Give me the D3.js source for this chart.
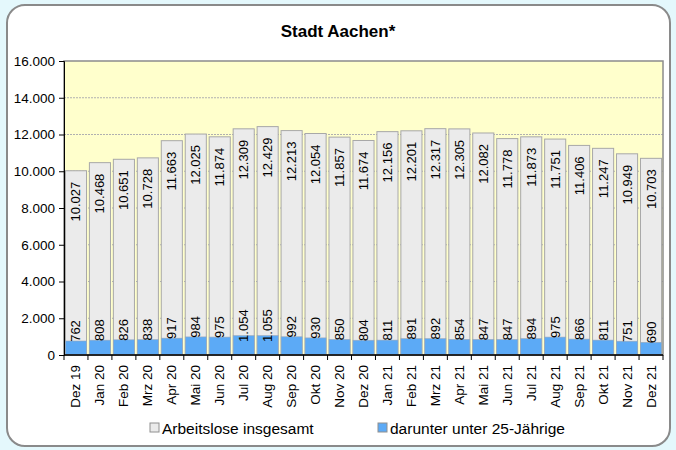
<!DOCTYPE html>
<html lang="de">
<head>
<meta charset="UTF-8">
<title>Stadt Aachen</title>
<script src="https://d3js.org/d3.v7.min.js"></script>
<style>
  html, body { margin: 0; padding: 0; background: #e4f8fc; }
  svg { display: block; font-family: "Liberation Sans", Arial, sans-serif; }
</style>
</head>
<body>
<svg width="676" height="450"></svg>
<script>
// data
const months = ["Dez 19","Jan 20","Feb 20","Mrz 20","Apr 20","Mai 20","Jun 20","Jul 20","Aug 20","Sep 20","Okt 20","Nov 20","Dez 20",
                "Jan 21","Feb 21","Mrz 21","Apr 21","Mai 21","Jun 21","Jul 21","Aug 21","Sep 21","Okt 21","Nov 21","Dez 21"];
const insgesamt = [10027,10468,10651,10728,11663,12025,11874,12309,12429,12213,12054,11857,11674,
                   12156,12201,12317,12305,12082,11778,11873,11751,11406,11247,10949,10703];
const unter25 = [762,808,826,838,917,984,975,1054,1055,992,930,850,804,
                 811,891,892,854,847,847,894,975,866,811,751,690];
const yTicks = [0,2000,4000,6000,8000,10000,12000,14000,16000];

const de = d3.formatLocale({decimal: ",", thousands: ".", grouping: [3], currency: ["", " €"]});
const fmt = de.format(",d");

const svg = d3.select("svg");

// chart frame
svg.append("rect")
  .attr("x", 7).attr("y", 5).attr("width", 663).attr("height", 441)
  .attr("rx", 18).attr("ry", 18)
  .attr("fill", "#fff").attr("stroke", "#8a8a8a").attr("stroke-width", 2);

svg.append("text")
  .attr("x", 338).attr("y", 37)
  .attr("text-anchor", "middle")
  .attr("font-size", 17).attr("font-weight", "bold")
  .text("Stadt Aachen*");

const pLeft = 64, pRight = 663, pTop = 61, pBottom = 355;

const x = d3.scaleBand().domain(months).range([pLeft, pRight]).paddingInner(0.12).paddingOuter(0.06);
const y = d3.scaleLinear().domain([0, 16000]).range([pBottom, pTop]);

// plot background
svg.append("rect")
  .attr("x", pLeft).attr("y", pTop).attr("width", pRight - pLeft).attr("height", pBottom - pTop)
  .attr("fill", "#ffffcc");

// grid
svg.append("g").selectAll("line")
  .data(yTicks.slice(1, -1))
  .join("line")
  .attr("x1", pLeft).attr("x2", pRight)
  .attr("y1", d => y(d)).attr("y2", d => y(d))
  .attr("stroke", "#b0b0b0").attr("stroke-dasharray", "2,1");

// total bars
svg.append("g").selectAll("rect")
  .data(insgesamt)
  .join("rect")
  .attr("x", (d, i) => x(months[i]))
  .attr("width", x.bandwidth())
  .attr("y", d => y(d))
  .attr("height", d => pBottom - y(d))
  .attr("fill", "#ebebeb").attr("stroke", "#a8a8a8").attr("stroke-width", 1);

// under 25 bars
svg.append("g").selectAll("rect")
  .data(unter25)
  .join("rect")
  .attr("x", (d, i) => x(months[i]))
  .attr("width", x.bandwidth())
  .attr("y", d => y(d))
  .attr("height", d => pBottom - y(d))
  .attr("fill", "#5caaf6").attr("stroke", "#9aa8b8").attr("stroke-width", 0.6);

// plot border
svg.append("rect")
  .attr("x", pLeft).attr("y", pTop).attr("width", pRight - pLeft).attr("height", pBottom - pTop)
  .attr("fill", "none").attr("stroke", "#8c8c8c").attr("stroke-width", 1.5);

// value labels
svg.append("g").selectAll("text")
  .data(insgesamt)
  .join("text")
  .attr("transform", (d, i) => `translate(${x(months[i]) + x.bandwidth() / 2},${y(d) + 11}) rotate(-90)`)
  .attr("text-anchor", "end")
  .attr("dominant-baseline", "central")
  .attr("font-size", 13)
  .text(d => fmt(d));

svg.append("g").selectAll("text")
  .data(unter25)
  .join("text")
  .attr("transform", (d, i) => `translate(${x(months[i]) + x.bandwidth() / 2},${y(d) - 10}) rotate(-90)`)
  .attr("text-anchor", "middle")
  .attr("dominant-baseline", "central")
  .attr("font-size", 13)
  .text(d => fmt(d));

// y axis
const yAxis = svg.append("g")
  .attr("transform", `translate(${pLeft},0)`)
  .call(d3.axisLeft(y).tickValues(yTicks).tickFormat(fmt).tickSize(5).tickPadding(4));
yAxis.select(".domain").attr("stroke", "#000");
yAxis.selectAll("text").attr("font-size", 13.5).attr("font-family", "Liberation Sans, Arial, sans-serif").attr("fill", "#000");

// x axis
const xg = svg.append("g");
xg.append("line")
  .attr("x1", pLeft).attr("x2", pRight).attr("y1", pBottom).attr("y2", pBottom)
  .attr("stroke", "#000").attr("stroke-width", 1.5);
const step = (pRight - pLeft) / months.length;
xg.selectAll("line.tick")
  .data(d3.range(months.length + 1))
  .join("line")
  .attr("class", "tick")
  .attr("x1", i => pLeft + i * step).attr("x2", i => pLeft + i * step)
  .attr("y1", pBottom).attr("y2", pBottom + 5)
  .attr("stroke", "#000");
xg.selectAll("text")
  .data(months)
  .join("text")
  .attr("transform", d => `translate(${x(d) + x.bandwidth() / 2},${pBottom + 10}) rotate(-90)`)
  .attr("text-anchor", "end")
  .attr("dominant-baseline", "central")
  .attr("font-size", 13.5)
  .text(d => d);

// legend
const legend = [
  {name: "Arbeitslose insgesamt", color: "#ebebeb", x: 150},
  {name: "darunter unter 25-Jährige", color: "#5caaf6", x: 378}
];
const lg = svg.append("g").selectAll("g").data(legend).join("g")
  .attr("transform", d => `translate(${d.x},423)`);
lg.append("rect")
  .attr("width", 9).attr("height", 9)
  .attr("fill", d => d.color).attr("stroke", "#909090");
lg.append("text")
  .attr("x", 12).attr("y", 5)
  .attr("dominant-baseline", "central")
  .attr("font-size", 15.5)
  .text(d => d.name);
</script>
</body>
</html>
